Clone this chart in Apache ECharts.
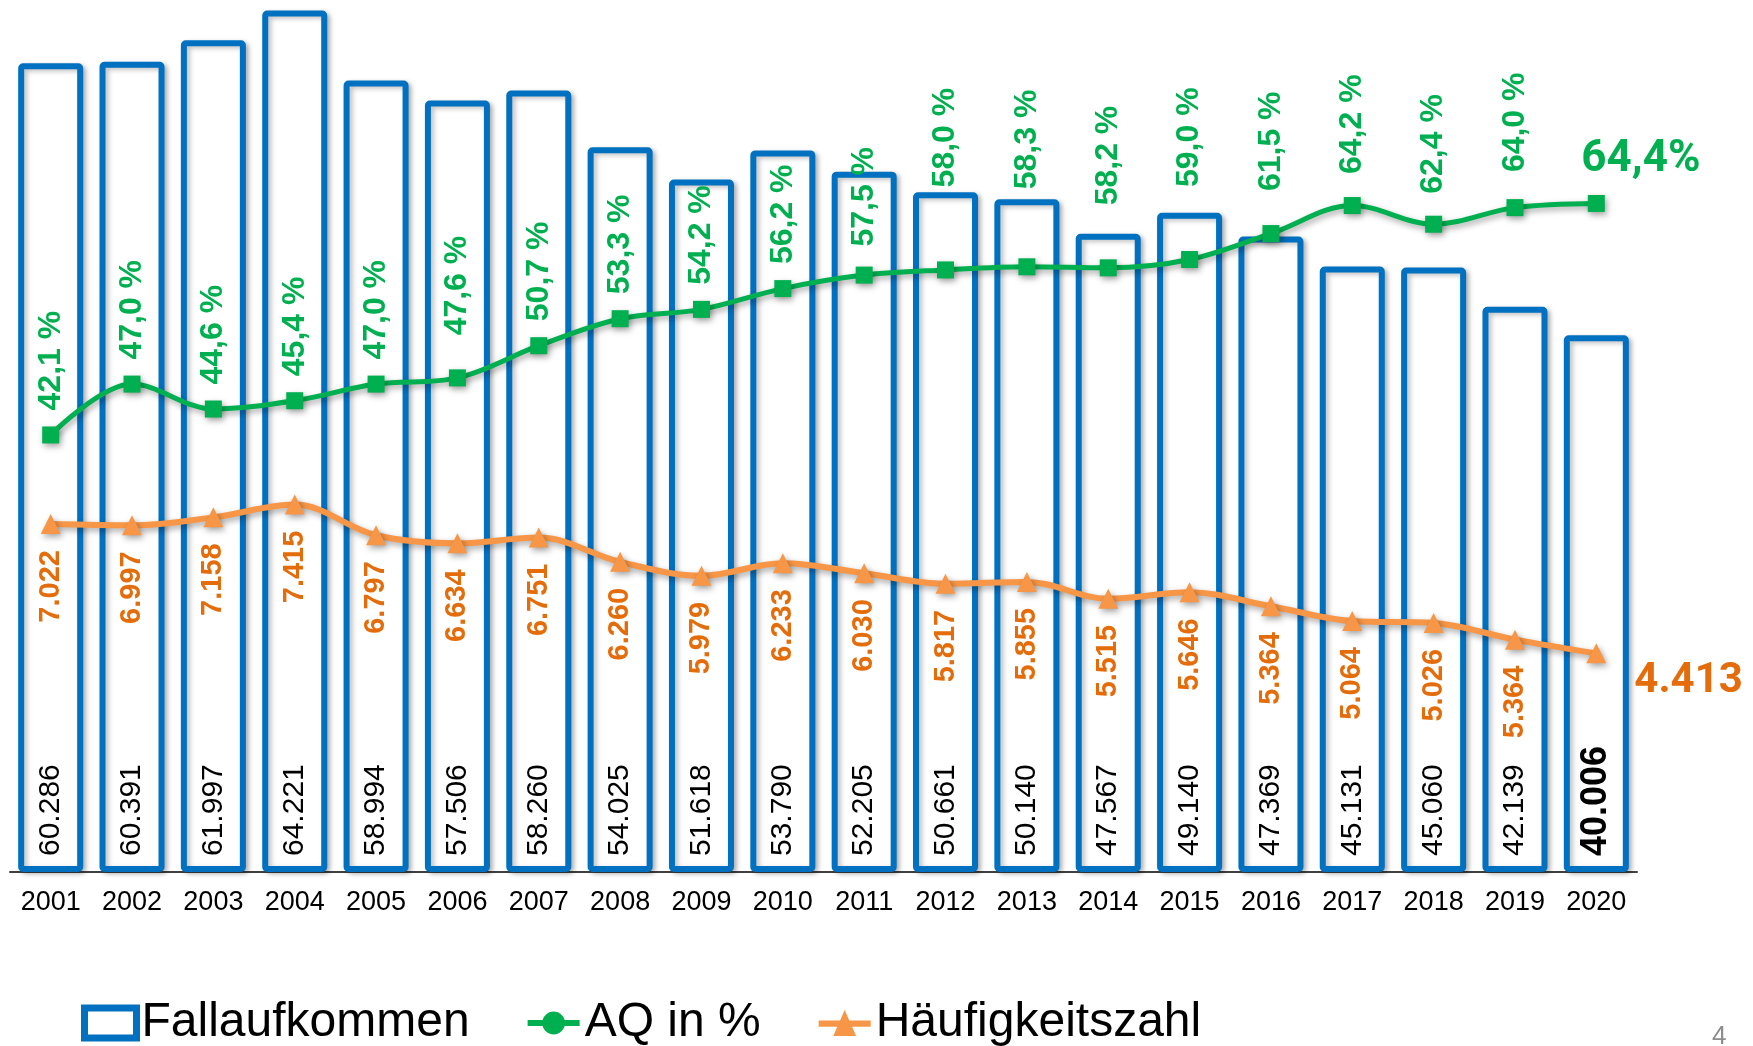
<!DOCTYPE html>
<html>
<head>
<meta charset="utf-8">
<script src="https://cdn.jsdelivr.net/npm/echarts@6/dist/echarts.min.js"></script>
<style>
html, body { margin: 0; padding: 0; background: #fff; }
#chart { width: 1753px; height: 1046px; }
</style>
</head>
<body>
<div id="chart"></div>
<script>
// Jahre
const years = ['2001', '2002', '2003', '2004', '2005', '2006', '2007', '2008', '2009', '2010',
    '2011', '2012', '2013', '2014', '2015', '2016', '2017', '2018', '2019', '2020'];

// Fallaufkommen (Balken)
const fallValues = [60286, 60391, 61997, 64221, 58994, 57506, 58260, 54025, 51618, 53790,
    52205, 50661, 50140, 47567, 49140, 47369, 45131, 45060, 42139, 40006];

// AQ in %
const aqValues = [42.1, 47.0, 44.6, 45.4, 47.0, 47.6, 50.7, 53.3, 54.2, 56.2,
    57.5, 58.0, 58.3, 58.2, 59.0, 61.5, 64.2, 62.4, 64.0, 64.4];

// Häufigkeitszahl (Punkt 2019 liegt im Bild tiefer als die Beschriftung)
const hzValues = [7022, 6997, 7158, 7415, 6797, 6634, 6751, 6260, 5979, 6233,
    6030, 5817, 5855, 5515, 5646, 5364, 5064, 5026, 4690, 4413];
const hzLabels = ['7.022', '6.997', '7.158', '7.415', '6.797', '6.634', '6.751', '6.260', '5.979', '6.233',
    '6.030', '5.817', '5.855', '5.515', '5.646', '5.364', '5.064', '5.026', '5.364', '4.413'];

// zusätzlicher Abstand der AQ-Beschriftungen (px), damit sie über den Balken stehen
const aqLabelLift = [0, 0, 0, 0, 0, 18, 0, 0, 0, 0,
    4, 58, 53, 38, 48, 18, 7, 6, 11, 0];

const BLUE = '#0070C0';
const GREEN = '#00B050';
const ORANGE = '#F79646';
const ORANGE_TXT = '#E46C0A';

const chart = echarts.init(document.getElementById('chart'));

const last = years.length - 1;

// Balken-Daten, letzter Wert fett
const barData = fallValues.map((v, i) => i === last
    ? { value: v, label: { fontWeight: 'bold', fontSize: 36 } }
    : v);

// AQ-Daten, letzter Wert als große Beschriftung rechts oben
const aqData = aqValues.map((v, i) => {
    if (i === last) {
        return {
            value: v,
            label: {
                rotate: 0,
                position: 'top',
                align: 'left',
                verticalAlign: 'bottom',
                distance: 13,
                offset: [-15, 0],
                fontFamily: 'Roboto',
                fontSize: 44,
                formatter: v.toFixed(1).replace('.', ',') + '%'
            }
        };
    }
    return { value: v, label: { distance: 16 + aqLabelLift[i] } };
});

const hzData = hzValues.map((v, i) => i === last
    ? {
        value: v,
        label: {
            rotate: 0,
            position: 'right',
            align: 'left',
            verticalAlign: 'middle',
            distance: 28,
            offset: [0, 28],
            fontFamily: 'Roboto',
            fontSize: 42
        }
    }
    : v);

const option = {
    backgroundColor: '#fff',
    animation: false,
    grid: {
        left: 10,
        right: 116,
        top: 0,
        bottom: 174
    },
    legend: {
        left: 76,
        top: 994,
        itemWidth: 52,
        itemHeight: 30,
        itemGap: 58,
        textStyle: {
            fontFamily: 'Liberation Sans, Arial',
            fontSize: 48,
            color: '#000'
        },
        data: [
            {
                name: 'Fallaufkommen',
                icon: 'rect',
                itemStyle: { color: '#fff', borderColor: BLUE, borderWidth: 7 }
            },
            {
                name: 'AQ in %',
                icon: 'path://M0,11h50v6h-50z M25,3a11,11 0 1,1 0,22a11,11 0 1,1 0,-22z'
            },
            {
                name: 'Häufigkeitszahl',
                icon: 'path://M0,11h50v6h-50z M25,1 L36,26 L14,26 Z'
            }
        ]
    },
    xAxis: {
        type: 'category',
        data: years,
        axisLine: { lineStyle: { color: '#404040', width: 2 } },
        axisTick: { length: 8, lineStyle: { color: '#404040', width: 1.5 } },
        axisLabel: {
            color: '#000',
            fontFamily: 'Liberation Sans, Arial',
            fontSize: 27,
            margin: 17
        }
    },
    yAxis: [
        { type: 'value', min: 0, max: 65000, show: false, splitLine: { show: false } },
        { type: 'value', min: 0, max: 84, show: false, splitLine: { show: false } },
        { type: 'value', min: 0, max: 17600, show: false, splitLine: { show: false } }
    ],
    series: [
        {
            name: 'Fallaufkommen',
            type: 'bar',
            yAxisIndex: 0,
            barWidth: 65,
            data: barData,
            itemStyle: {
                color: '#fff',
                borderColor: BLUE,
                borderWidth: 6,
                borderRadius: 2,
                shadowColor: 'rgba(0,0,0,0.25)',
                shadowBlur: 5,
                shadowOffsetX: 3,
                shadowOffsetY: 2
            },
            label: {
                show: true,
                position: 'insideBottom',
                distance: 16,
                rotate: 90,
                align: 'left',
                verticalAlign: 'middle',
                color: '#000',
                fontFamily: 'Liberation Sans, Arial',
                fontSize: 30,
                formatter: p => p.value.toLocaleString('de-DE')
            },
            z: 2
        },
        {
            name: 'AQ in %',
            type: 'line',
            yAxisIndex: 1,
            smooth: 0.35,
            symbol: 'rect',
            symbolSize: 17,
            data: aqData,
            lineStyle: {
                color: GREEN,
                width: 5,
                shadowColor: 'rgba(0,0,0,0.35)',
                shadowBlur: 6,
                shadowOffsetX: 2,
                shadowOffsetY: 3
            },
            itemStyle: {
                color: GREEN,
                shadowColor: 'rgba(0,0,0,0.35)',
                shadowBlur: 6,
                shadowOffsetX: 2,
                shadowOffsetY: 3
            },
            label: {
                show: true,
                position: 'top',
                distance: 16,
                rotate: 90,
                align: 'left',
                verticalAlign: 'middle',
                color: GREEN,
                fontFamily: 'Liberation Sans, Arial',
                fontWeight: 'bold',
                fontSize: 32,
                formatter: p => p.value.toFixed(1).replace('.', ',') + ' %'
            },
            z: 4
        },
        {
            name: 'Häufigkeitszahl',
            type: 'line',
            yAxisIndex: 2,
            smooth: 0.35,
            symbol: 'triangle',
            symbolSize: 20,
            data: hzData,
            lineStyle: {
                color: ORANGE,
                width: 6,
                shadowColor: 'rgba(0,0,0,0.35)',
                shadowBlur: 6,
                shadowOffsetX: 2,
                shadowOffsetY: 3
            },
            itemStyle: {
                color: ORANGE,
                shadowColor: 'rgba(0,0,0,0.35)',
                shadowBlur: 6,
                shadowOffsetX: 2,
                shadowOffsetY: 3
            },
            label: {
                show: true,
                position: 'bottom',
                distance: 16,
                rotate: 90,
                align: 'right',
                verticalAlign: 'middle',
                color: ORANGE_TXT,
                fontFamily: 'Liberation Sans, Arial',
                fontWeight: 'bold',
                fontSize: 29,
                formatter: p => hzLabels[p.dataIndex]
            },
            z: 3
        }
    ],
    graphic: [
        {
            type: 'text',
            left: 1712,
            top: 1024,
            style: {
                text: '4',
                fill: '#8C8C8C',
                font: '26px Liberation Sans, Arial'
            }
        }
    ]
};

chart.setOption(option);
</script>
</body>
</html>
